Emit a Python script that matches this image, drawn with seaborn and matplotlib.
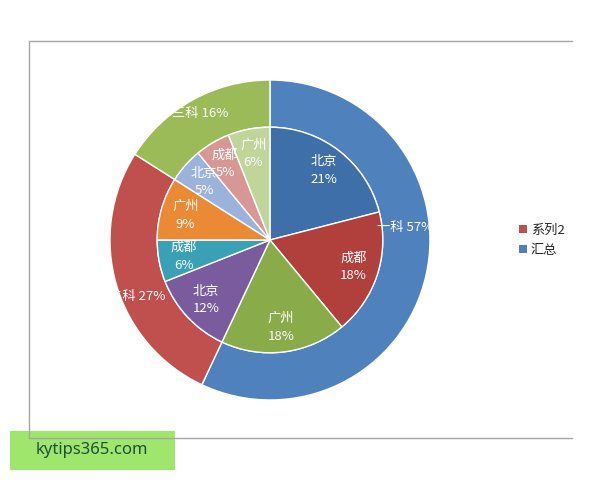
"""
Nested pie (doughnut + pie) of subject totals and city breakdown.
"""

import matplotlib.pyplot as plt
import numpy as np
import seaborn as sns
from matplotlib.lines import Line2D
from matplotlib.patches import Patch, Rectangle

# outer ring: 汇总
subjects = ['一科', '二科', '三科']
subject_pct = [57, 27, 16]
subject_colors = ['#4f81bd', '#c0504d', '#9bbb59']

# inner pie: 系列2
cities = ['北京', '成都', '广州', '北京', '成都', '广州', '北京', '成都', '广州']
city_pct = [21, 18, 18, 12, 6, 9, 5, 5, 6]
city_colors = ['#3f6fa8', '#b13f3c', '#8aab4a',
               '#7a5c9e', '#3aa0b6', '#ea8a35',
               '#9db2da', '#d69795', '#bfd59a']

legend_labels = ['系列2', '汇总']
legend_colors = ['#c0504d', '#4f81bd']

sns.set_style('white')
plt.rcParams['font.family'] = ['Noto Sans CJK SC', 'DejaVu Sans']

fig = plt.figure(figsize=(6, 4.8), dpi=100)
ax = fig.add_axes([0.1833, 0.1667, 0.5333, 0.6667])

outer_r = 1.0
inner_r = 0.705

wedges_out, _ = ax.pie(subject_pct, radius=outer_r, colors=subject_colors,
                       startangle=90, counterclock=False,
                       wedgeprops=dict(width=outer_r - inner_r,
                                       edgecolor='white', linewidth=1))
wedges_in, _ = ax.pie(city_pct, radius=inner_r, colors=city_colors,
                      startangle=90, counterclock=False,
                      wedgeprops=dict(edgecolor='white', linewidth=1))
ax.set_xlim(-1, 1)
ax.set_ylim(-1, 1)

# outer labels (nudged along the ring like the original layout)
label_shift = [18, 7, 0]
label_rad = [0.85, 0.9, 0.9]
for w, name, p, da, r in zip(wedges_out, subjects, subject_pct,
                             label_shift, label_rad):
    ang = np.deg2rad((w.theta1 + w.theta2) / 2 + da)
    ax.text(r * np.cos(ang), r * np.sin(ang), f'{name} {p}%',
            ha='center', va='center', color='white', fontsize=9.5)

# inner labels
for w, name, p in zip(wedges_in, cities, city_pct):
    ang = np.deg2rad((w.theta1 + w.theta2) / 2)
    r = 0.55
    ax.text(r * np.cos(ang), r * np.sin(ang), f'{name}\n{p}%',
            ha='center', va='center', color='white', fontsize=9.5,
            linespacing=1.45)

handles = [Patch(facecolor=c, edgecolor='none') for c in legend_colors]
fig.legend(handles, legend_labels, loc='center left',
           bbox_to_anchor=(0.845, 0.5), frameon=False, fontsize=9.5,
           handlelength=0.6, handleheight=0.6, handletextpad=0.3,
           labelspacing=0.55)

# chart area frame (left, top, bottom)
frame_kw = dict(color='#a6a6a6', linewidth=1, transform=fig.transFigure)
x0, x1 = 29 / 600, 572 / 600
y_top, y_bot = 1 - 41 / 480, 1 - 438 / 480
fig.add_artist(Line2D([x0, x1], [y_top, y_top], **frame_kw))
fig.add_artist(Line2D([x0, x0], [y_bot, y_top], **frame_kw))
fig.add_artist(Line2D([x0, x1], [y_bot, y_bot], **frame_kw))

# watermark
fig.add_artist(Rectangle((10 / 600, 10 / 480), 165 / 600, 39 / 480,
                         facecolor='#9ee66c', edgecolor='none',
                         transform=fig.transFigure))
fig.text(92 / 600, 1 - 450 / 480, 'kytips365.com', ha='center', va='center',
         fontsize=12, color='#1e4f3a', family=['Noto Sans', 'DejaVu Sans'])

fig.savefig('out.png', dpi=100)
